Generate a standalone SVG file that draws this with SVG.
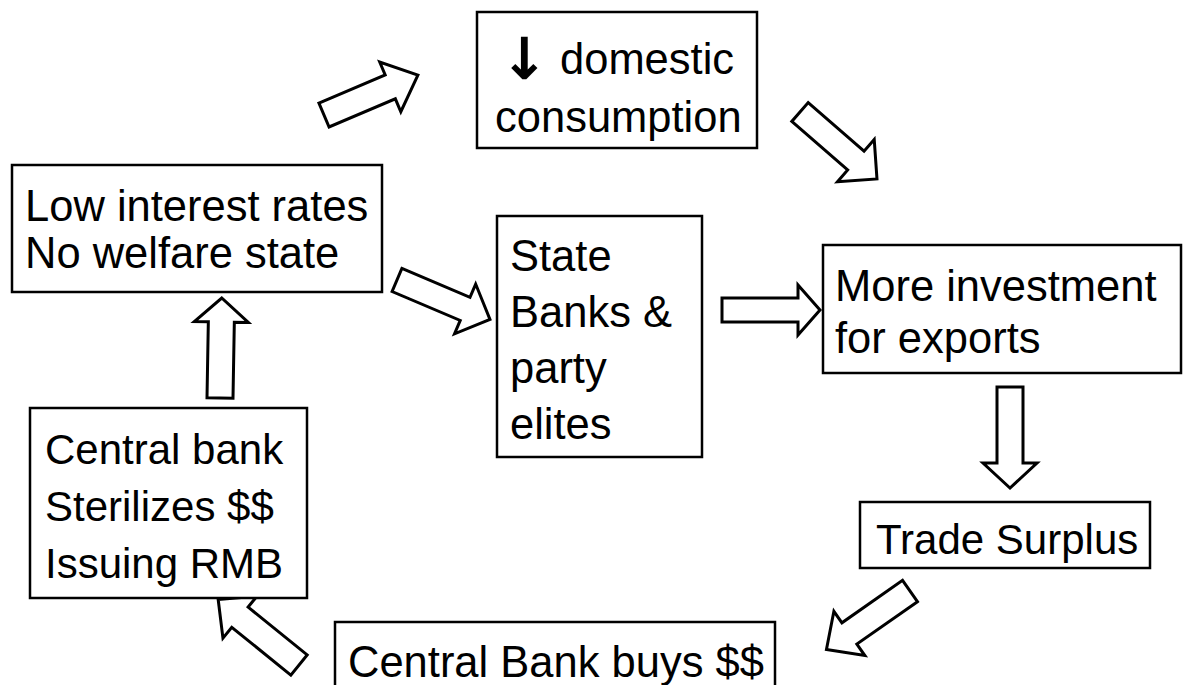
<svg xmlns="http://www.w3.org/2000/svg" width="1184" height="685" viewBox="0 0 1184 685">
<style>
.box{fill:#fff;stroke:#000;stroke-width:2.5}
.t{font-family:"Liberation Sans",Arial,sans-serif;font-size:43.5px;fill:#000}
.s{font-size:42px}
.arr{fill:#fff;stroke:#000;stroke-width:3;stroke-linejoin:miter}
</style>
<rect width="1184" height="685" fill="#fff"/>
<g id="connectors">
<polygon class="arr" transform="translate(324,115) rotate(-23)" points="0,-13 72,-13 72,-27 102,0 72,27 72,13 0,13"/>
<polygon class="arr" transform="translate(800,112) rotate(41)" points="0,-12.5 74,-12.5 74,-28 102,0 74,28 74,12.5 0,12.5"/>
<polygon class="arr" transform="translate(397,280) rotate(23)" points="0,-12.5 74,-12.5 74,-27 101,0 74,27 74,12.5 0,12.5"/>
<polygon class="arr" transform="translate(722,310)" points="0,-12 76,-12 76,-25 98,0 76,25 76,12 0,12"/>
<polygon class="arr" transform="translate(1010,387) rotate(90)" points="0,-13 76,-13 76,-27 101,0 76,27 76,13 0,13"/>
<polygon class="arr" transform="translate(910,591) rotate(145)" points="0,-13 74,-13 74,-27 102,0 74,27 74,13 0,13"/>
<polygon class="arr" transform="translate(299,665) rotate(-141)" points="0,-13 76,-13 76,-27 104,0 76,27 76,13 0,13"/>
<polygon class="arr" transform="translate(220,398) rotate(-89)" points="0,-13 76,-13 76,-27 100,0 76,27 76,13 0,13"/>
</g>
<g id="domestic">
<rect class="box" x="477" y="12" width="280" height="136"/>
<text x="500" y="79" font-family="DejaVu Sans,sans-serif" font-weight="bold" font-size="58">↓</text>
<text class="t" x="560" y="74">domestic</text>
<text class="t" x="495" y="132">consumption</text>
</g>
<g id="low">
<rect class="box" x="12" y="165" width="370" height="127"/>
<text class="t" x="25" y="221">Low interest rates</text>
<text class="t" x="25" y="268">No welfare state</text>
</g>
<g id="state">
<rect class="box" x="497" y="216" width="205" height="241"/>
<text class="t" x="510" y="271">State</text>
<text class="t" x="510" y="327">Banks &amp;</text>
<text class="t" x="510" y="383">party</text>
<text class="t" x="510" y="439">elites</text>
</g>
<g id="invest">
<rect class="box" x="823" y="245" width="358" height="128"/>
<text class="t" x="835" y="301">More investment</text>
<text class="t" x="835" y="353">for exports</text>
</g>
<g id="trade">
<rect class="box" x="860" y="502" width="290" height="66"/>
<text class="t s" x="876" y="554">Trade Surplus</text>
</g>
<g id="buys">
<rect class="box" x="335" y="622" width="440" height="80"/>
<text class="t" x="348" y="677">Central Bank buys $$</text>
</g>
<g id="steril">
<rect class="box" x="30" y="408" width="277" height="190"/>
<text class="t s" x="45" y="464">Central bank</text>
<text class="t s" x="45" y="521">Sterilizes $$</text>
<text class="t s" x="45" y="578">Issuing RMB</text>
</g>
</svg>
